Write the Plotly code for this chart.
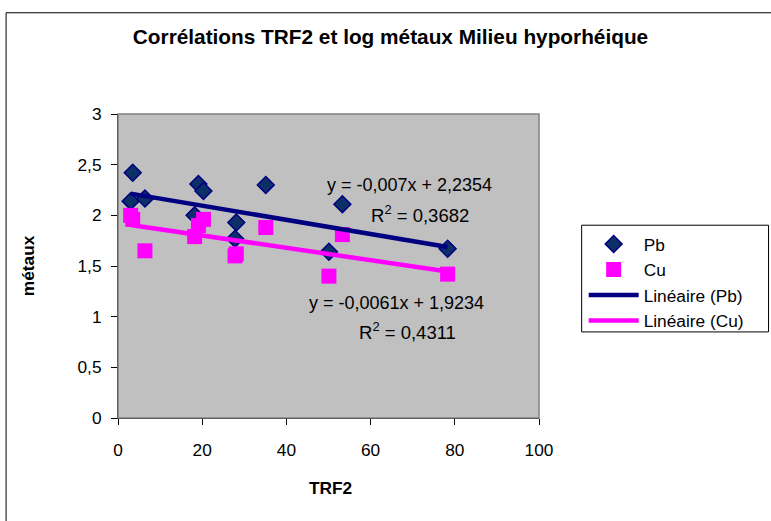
import plotly.graph_objects as go

# Data
trf2 = [3.0, 3.5, 6.4, 18.2, 19.1, 20.3, 27.8, 28.1, 35.1, 50.1, 53.3, 78.3]
pb = [2.14, 2.42, 2.165, 2.00, 2.31, 2.24, 1.77, 1.93, 2.30, 1.64, 2.11, 1.67]
cu = [2.00, 1.96, 1.65, 1.79, 1.90, 1.96, 1.60, 1.62, 1.88, 1.40, 1.81, 1.42]

# Trend-line coefficients shown on the chart
pb_slope, pb_intercept, pb_r2 = -0.007, 2.2354, 0.3682
cu_slope, cu_intercept, cu_r2 = -0.0061, 1.9234, 0.4311

x_ticks = [0, 20, 40, 60, 80, 100]
y_ticks = [0, 0.5, 1, 1.5, 2, 2.5, 3]

FONT = "Liberation Sans, Arial, sans-serif"
FS = 17.3
W, H = 771, 521
L, R, T, B = 118, 539.3, 113.5, 418.3


def px_x(p):
    return (p - L) / (R - L)


def px_y(p):
    return (B - p) / (B - T)


xmin, xmax = min(trf2), max(trf2)
line_x = [xmin, xmax]

fig = go.Figure()
fig.add_trace(go.Scatter(
    x=trf2, y=pb, mode="markers", name="Pb",
    marker=dict(symbol="diamond", size=13, color="#0b2f66",
                line=dict(color="#000080", width=1.5)),
))
fig.add_trace(go.Scatter(
    x=trf2, y=cu, mode="markers", name="Cu",
    marker=dict(symbol="square", size=15, color="#FF00FF",
                line=dict(width=0)),
))
fig.add_trace(go.Scatter(
    x=line_x, y=[pb_slope * v + pb_intercept for v in line_x],
    mode="lines", name="Linéaire (Pb)",
    line=dict(color="#000080", width=4.5),
))
fig.add_trace(go.Scatter(
    x=line_x, y=[cu_slope * v + cu_intercept for v in line_x],
    mode="lines", name="Linéaire (Cu)",
    line=dict(color="#FF00FF", width=4.5),
))


def fmt(v):
    return f"{v}".replace(".", ",")


def ann(text, xp, yp, angle=0, size=FS):
    return dict(text=text, x=px_x(xp), y=px_y(yp), xref="paper", yref="paper",
                xanchor="center", yanchor="middle", showarrow=False,
                align="center", textangle=angle,
                font=dict(size=size, color="black", family=FONT))


annotations = [
    ann(f"y = {fmt(pb_slope)}x + {fmt(pb_intercept)}", 410, 185, size=18),
    ann(f"R<sup>2</sup> = {fmt(pb_r2)}", 420, 214, size=18.5),
    ann(f"y = {fmt(cu_slope)}x + {fmt(cu_intercept)}", 397, 303, size=18),
    ann(f"R<sup>2</sup> = {fmt(cu_r2)}", 408, 331, size=18.5),
    ann("<b>TRF2</b>", 331, 488),
    ann("<b>métaux</b>", 28, 266, -90),
]

shapes = [
    # chart frame (left and top visible)
    dict(type="rect", xref="paper", yref="paper",
         x0=px_x(6), x1=px_x(800), y0=px_y(560), y1=px_y(12),
         line=dict(color="black", width=1), layer="below"),
    # plot area border
    dict(type="rect", xref="paper", yref="paper", x0=0, x1=1, y0=0, y1=1,
         line=dict(color="#808080", width=1.5)),
    # legend box
    dict(type="rect", xref="paper", yref="paper",
         x0=px_x(582), x1=px_x(769), y0=px_y(332), y1=px_y(225),
         line=dict(color="black", width=1), fillcolor="white", layer="below"),
]

fig.update_layout(
    width=W, height=H,
    margin=dict(l=L, r=W - R, t=T, b=H - B),
    paper_bgcolor="white", plot_bgcolor="#C0C0C0",
    separators=", ",
    font=dict(family=FONT, size=FS, color="black"),
    title=dict(text="<b>Corrélations TRF2 et log métaux Milieu hyporhéique</b>",
               x=390.5 / W, xref="container", xanchor="center",
               y=1 - 37 / H, yref="container", yanchor="middle",
               font=dict(size=20.8, family=FONT, color="black")),
    showlegend=True,
    legend=dict(x=px_x(584), y=px_y(226), xanchor="left", yanchor="top",
                borderwidth=0, bgcolor="rgba(0,0,0,0)",
                font=dict(size=FS, family=FONT, color="black"),
                itemwidth=50, tracegroupgap=0),
    annotations=annotations, shapes=shapes,
)
fig.update_xaxes(range=[0, 100], tickvals=x_ticks, showgrid=False, zeroline=False,
                 showline=True, linecolor="black", linewidth=1,
                 ticks="outside", ticklen=6, tickcolor="black",
                 ticklabelstandoff=10)
fig.update_yaxes(range=[0, 3], tickvals=y_ticks, showgrid=False, zeroline=False,
                 showline=True, linecolor="black", linewidth=1,
                 ticks="outside", ticklen=6, tickcolor="black",
                 ticklabelstandoff=6)

fig.write_html("out.html")
